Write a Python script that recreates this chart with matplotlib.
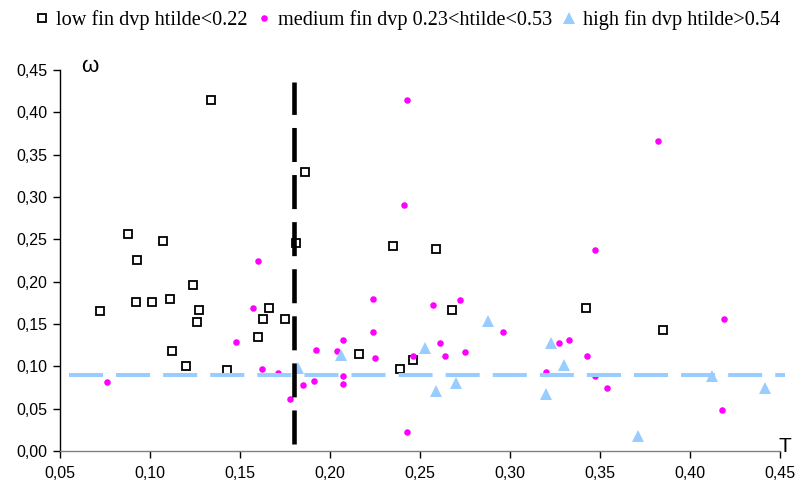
import matplotlib
matplotlib.use("Agg")
import matplotlib.pyplot as plt
from matplotlib.ticker import FuncFormatter, MultipleLocator

plt.rcParams["lines.scale_dashes"] = False

# Low financial development (htilde < 0.22)
low_T = [0.134, 0.186, 0.088, 0.107, 0.093, 0.181, 0.072, 0.092, 0.101, 0.111,
         0.124, 0.127, 0.126, 0.112, 0.120, 0.143, 0.166, 0.163, 0.175, 0.160,
         0.235, 0.259, 0.268, 0.216, 0.246, 0.239, 0.342, 0.385]
low_w = [0.414, 0.330, 0.256, 0.248, 0.226, 0.246, 0.165, 0.176, 0.176, 0.180,
         0.196, 0.167, 0.152, 0.118, 0.100, 0.096, 0.169, 0.156, 0.156, 0.135,
         0.242, 0.239, 0.167, 0.114, 0.107, 0.097, 0.169, 0.143]

# Medium financial development (0.23 < htilde < 0.53)
med_T = [0.160, 0.157, 0.148, 0.076, 0.162, 0.171, 0.185, 0.178, 0.243, 0.241,
         0.224, 0.257, 0.272, 0.296, 0.224, 0.207, 0.261, 0.192, 0.204, 0.225,
         0.264, 0.275, 0.246, 0.207, 0.207, 0.191, 0.243, 0.382, 0.347, 0.419,
         0.327, 0.333, 0.343, 0.320, 0.347, 0.354, 0.418]
med_w = [0.224, 0.169, 0.129, 0.082, 0.097, 0.092, 0.078, 0.061, 0.414, 0.290,
         0.180, 0.172, 0.178, 0.140, 0.140, 0.131, 0.127, 0.119, 0.118, 0.110,
         0.112, 0.117, 0.112, 0.089, 0.079, 0.083, 0.022, 0.366, 0.237, 0.156,
         0.127, 0.131, 0.112, 0.093, 0.089, 0.074, 0.048]

# High financial development (htilde > 0.54)
high_T = [0.182, 0.206, 0.253, 0.259, 0.270, 0.288, 0.320, 0.323, 0.330, 0.371,
          0.412, 0.4415]
high_w = [0.098, 0.113, 0.122, 0.071, 0.080, 0.153, 0.067, 0.128, 0.102, 0.018,
          0.089, 0.075]

# Reference lines
hline_T = [0.055, 0.4525]
hline_w = [0.09, 0.09]
vline_T = [0.18, 0.18]
vline_w = [0.008, 0.436]

labels = ["low fin dvp htilde<0.22",
          "medium fin dvp 0.23<htilde<0.53",
          "high fin dvp htilde>0.54"]

fig = plt.figure(figsize=(7.99, 4.90), dpi=100)
ax = fig.add_axes([60 / 799, 1 - 451 / 490, 720 / 799, 381 / 490])

h_low, = ax.plot(low_T, low_w, linestyle="none", marker="s", markersize=6.3,
                 markerfacecolor="white", markeredgecolor="black",
                 markeredgewidth=1.3, zorder=3)
h_med, = ax.plot(med_T, med_w, linestyle="none", marker="o", markersize=4.7,
                 markerfacecolor="#FF00FF", markeredgecolor="#FF00FF",
                 markeredgewidth=0, zorder=3)
h_high, = ax.plot(high_T, high_w, linestyle="none", marker="^", markersize=8,
                  markerfacecolor="#99CCFF", markeredgecolor="#99CCFF",
                  markeredgewidth=0, zorder=3)

ax.plot(hline_T, hline_w, color="#99CCFF", linewidth=2.9,
        dashes=(24.5, 9.4), solid_capstyle="butt", dash_capstyle="butt",
        zorder=4, clip_on=False)
ax.plot(vline_T, vline_w, color="black", linewidth=3.3,
        dashes=(24.5, 9.4), dash_capstyle="butt", zorder=5)

ax.set_xlim(0.05, 0.45)
ax.set_ylim(0.0, 0.45)
ax.xaxis.set_major_locator(MultipleLocator(0.05))
ax.yaxis.set_major_locator(MultipleLocator(0.05))
fmt = FuncFormatter(lambda v, p: f"{v:.2f}".replace(".", ","))
ax.xaxis.set_major_formatter(fmt)
ax.yaxis.set_major_formatter(fmt)

for s in ("top", "right"):
    ax.spines[s].set_visible(False)
ax.spines["left"].set_color("black")
ax.spines["left"].set_linewidth(1.0)
ax.spines["bottom"].set_color("#808080")
ax.spines["bottom"].set_linewidth(1.0)
ax.tick_params(axis="both", direction="out", length=5, width=1,
               labelsize=11.5, pad=4, color="black")
ax.tick_params(axis="x", pad=6)
for t in ax.get_xticklabels() + ax.get_yticklabels():
    t.set_fontfamily("Liberation Sans")

fig.text(90 / 799, 1 - 67 / 490, "ω", fontsize=16, family="Liberation Sans",
         ha="center", va="center")
fig.text(785 / 799, 1 - 446 / 490, "T", fontsize=15, family="Liberation Sans",
         ha="center", va="center")

leg = fig.legend([h_low, h_med, h_high], labels, loc="center",
                 bbox_to_anchor=(408 / 799, 1 - 20 / 490), ncol=3,
                 frameon=False, prop={"family": "Liberation Serif", "size": 14.6},
                 handlelength=0.6, handletextpad=0.4, columnspacing=0.5,
                 borderpad=0.0)

fig.savefig("out.png", dpi=100)
